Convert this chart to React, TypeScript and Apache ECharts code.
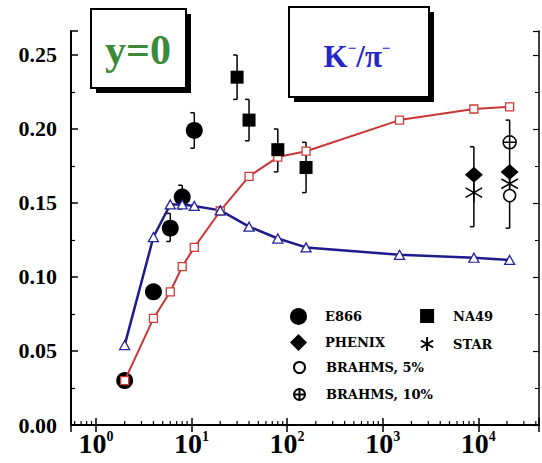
import React, { useEffect, useRef } from "react";
import * as echarts from "echarts";

// Beam energies (GeV) at which the two model curves are evaluated
const modelEnergy = [2, 4, 6, 8, 10.7, 20, 40, 80, 158, 1500, 9000, 21300];
const modelRed = [0.030, 0.072, 0.090, 0.107, 0.120, 0.1446, 0.168, 0.181, 0.185, 0.206, 0.2135, 0.215];
const modelBlue = [0.054, 0.127, 0.149, 0.149, 0.148, 0.145, 0.134, 0.126, 0.120, 0.115, 0.113, 0.1115];

// Measured K-/pi- ratios at mid-rapidity
const e866Energy = [2, 4, 6, 8, 10.7];
const e866Ratio = [0.030, 0.090, 0.133, 0.154, 0.199];
const na49Energy = [30, 40, 80, 158];
const na49Ratio = [0.235, 0.206, 0.186, 0.174];
const phenixEnergy = [9000, 21300];
const phenixRatio = [0.169, 0.171];
const starEnergy = [9000, 21300];
const starRatio = [0.157, 0.163];
const brahms5Energy = [21300];
const brahms5Ratio = [0.155];
const brahms10Energy = [21300];
const brahms10Ratio = [0.191];

// Error bars: energy, lower end, upper end
const errEnergy = [6, 8, 10.7, 30, 40, 80, 158, 9000, 21300];
const errLow = [0.124, 0.146, 0.187, 0.220, 0.192, 0.171, 0.157, 0.134, 0.133];
const errHigh = [0.143, 0.162, 0.211, 0.250, 0.220, 0.200, 0.191, 0.188, 0.206];

// Axis ticks
const xTickExponents = [0, 1, 2, 3, 4];
const yTickLabels = ["0.00", "0.05", "0.10", "0.15", "0.20", "0.25"];

const X_MIN = 0.549;
const X_MAX = 43200;
const Y_MAX = 0.2662;

const SERIF = '"Liberation Serif", "Times New Roman", serif';
const LEGEND_FONT = '"DejaVu Serif", "Liberation Serif", serif';

const STAR_PATH = "path://M0,-10L0,10M-8.7,-5L8.7,5M-8.7,5L8.7,-5";
const CROSS_CIRCLE_PATH =
  "path://M10,0A10,10,0,1,1,-10,0A10,10,0,1,1,10,0ZM-10,0L10,0M0,-10L0,10";

const pairs = (xs: number[], ys: number[]) => xs.map((x, i) => [x, ys[i]]);

// Minor tick positions of the logarithmic energy axis (2..9 in every decade)
const minorTicks: number[][] = [];
for (let d = -1; d <= 4; d++) {
  for (let m = 2; m <= 9; m++) {
    const v = m * Math.pow(10, d);
    if (v > X_MIN && v < X_MAX) minorTicks.push([v, 0]);
  }
}

const legendText = (pad: number) => ({
  fontFamily: LEGEND_FONT,
  fontWeight: "bold",
  fontSize: 13,
  color: "#000",
  padding: [0, 0, 0, pad],
});

export default function App() {
  const ref = useRef<HTMLDivElement>(null);

  useEffect(() => {
    if (!ref.current) return;
    const chart = echarts.init(ref.current, undefined, { renderer: "svg" });

    const axisLine = { show: true, lineStyle: { color: "#000", width: 2 } };

    chart.setOption({
      animation: false,
      backgroundColor: "#fff",
      grid: { left: 71, right: 1, top: 31, bottom: 38 },
      xAxis: [
        {
          type: "log",
          min: X_MIN,
          max: X_MAX,
          position: "bottom",
          axisLine,
          splitLine: { show: false },
          axisTick: { show: true, inside: true, length: 7, lineStyle: { color: "#000", width: 1.5 } },
          axisLabel: {
            margin: 4,
            color: "#000",
            formatter: (v: number) => {
              const e = Math.log10(v);
              const r = Math.round(e);
              if (Math.abs(e - r) > 1e-6 || !xTickExponents.includes(r)) return "";
              return `{b|10}{s|${r}}`;
            },
            rich: {
              b: { fontFamily: SERIF, fontWeight: "bold", fontSize: 28, color: "#000" },
              s: { fontFamily: SERIF, fontWeight: "bold", fontSize: 14, color: "#000", verticalAlign: "top" },
            },
          },
        },
        {
          type: "log",
          min: X_MIN,
          max: X_MAX,
          position: "top",
          axisLine: { show: true, lineStyle: { color: "#000", width: 1.5 } },
          splitLine: { show: false },
          axisTick: { show: true, inside: true, length: 7, lineStyle: { color: "#000", width: 1.5 } },
          axisLabel: { show: false },
        },
      ],
      yAxis: [
        {
          type: "value",
          min: 0,
          max: Y_MAX,
          interval: 0.05,
          position: "left",
          axisLine,
          splitLine: { show: false },
          axisTick: { show: true, inside: true, length: 7, lineStyle: { color: "#000", width: 1.5 } },
          minorTick: { show: true, splitNumber: 2, length: 4, lineStyle: { color: "#000", width: 1.2 } },
          axisLabel: {
            margin: 14,
            color: "#000",
            fontFamily: SERIF,
            fontWeight: "bold",
            fontSize: 22,
            showMaxLabel: false,
            formatter: (v: number) => {
              const i = Math.round(v / 0.05);
              if (Math.abs(v - i * 0.05) > 1e-6) return "";
              return yTickLabels[i] ?? "";
            },
          },
        },
        {
          type: "value",
          min: 0,
          max: Y_MAX,
          interval: 0.05,
          position: "right",
          axisLine: { show: true, lineStyle: { color: "#000", width: 1.5 } },
          splitLine: { show: false },
          axisTick: { show: true, inside: true, length: 6, lineStyle: { color: "#000", width: 1.2 } },
          minorTick: { show: true, splitNumber: 2, length: 4, lineStyle: { color: "#000", width: 1 } },
          axisLabel: { show: false },
        },
      ],
      legend: [
        {
          data: ["E866", "PHENIX"],
          orient: "vertical",
          left: 290,
          top: 308,
          padding: 0,
          itemWidth: 17,
          itemHeight: 17,
          itemGap: 9,
          selectedMode: false,
          textStyle: legendText(13),
        },
        {
          data: ["BRAHMS, 5%", "BRAHMS, 10%"],
          orient: "vertical",
          left: 293,
          top: 361,
          padding: 0,
          itemWidth: 11,
          itemHeight: 11,
          itemGap: 14,
          selectedMode: false,
          textStyle: legendText(16),
        },
        {
          data: ["NA49", "STAR"],
          orient: "vertical",
          left: 420,
          top: 309,
          padding: 0,
          itemWidth: 14,
          itemHeight: 14,
          itemGap: 13,
          selectedMode: false,
          textStyle: legendText(14),
        },
      ],
      graphic: [
        { type: "rect", z: 100, shape: { x: 96, y: 14, width: 95, height: 79 }, style: { fill: "#000" } },
        {
          type: "rect",
          z: 101,
          shape: { x: 91, y: 9, width: 95, height: 79 },
          style: { fill: "#fff", stroke: "#000", lineWidth: 2 },
        },
        {
          type: "text",
          z: 102,
          x: 138,
          y: 50,
          style: {
            text: "y=0",
            fontFamily: SERIF,
            fontWeight: "bold",
            fontSize: 42,
            fill: "#3b8a3b",
            align: "center",
            verticalAlign: "middle",
          },
        },
        { type: "rect", z: 100, shape: { x: 294, y: 12, width: 140, height: 90 }, style: { fill: "#000" } },
        {
          type: "rect",
          z: 101,
          shape: { x: 289, y: 7, width: 140, height: 90 },
          style: { fill: "#fff", stroke: "#000", lineWidth: 2 },
        },
        {
          type: "text",
          z: 102,
          x: 357,
          y: 56,
          style: {
            text: "{k|K}{s|\u2212}{k|/\u03c0}{s|\u2212}",
            align: "center",
            verticalAlign: "middle",
            rich: {
              k: { fontFamily: SERIF, fontWeight: "bold", fontSize: 31, fill: "#2626c8" },
              s: { fontFamily: SERIF, fontWeight: "bold", fontSize: 15, fill: "#2626c8", verticalAlign: "top" },
            },
          },
        },
      ],
      series: [
        {
          type: "custom",
          name: "minor ticks",
          silent: true,
          z: 1,
          data: minorTicks,
          encode: { x: 0, y: 1 },
          renderItem: (_p: any, api: any) => {
            const pt = api.coord([api.value(0), 0]);
            return {
              type: "line",
              shape: { x1: pt[0], y1: pt[1], x2: pt[0], y2: pt[1] - 4 },
              style: { stroke: "#000", lineWidth: 1.2 },
            };
          },
        },
        {
          type: "custom",
          name: "errors",
          silent: true,
          z: 1,
          data: errEnergy.map((e, i) => [e, errLow[i], errHigh[i]]),
          encode: { x: 0, y: [1, 2] },
          renderItem: (_p: any, api: any) => {
            const x = api.value(0);
            const top = api.coord([x, api.value(2)]);
            const bot = api.coord([x, api.value(1)]);
            const st = { stroke: "#000", lineWidth: 1.5 };
            return {
              type: "group",
              children: [
                { type: "line", shape: { x1: top[0], y1: top[1], x2: bot[0], y2: bot[1] }, style: st },
                { type: "line", shape: { x1: top[0] - 4, y1: top[1], x2: top[0], y2: top[1] }, style: st },
                { type: "line", shape: { x1: bot[0] - 4, y1: bot[1], x2: bot[0], y2: bot[1] }, style: st },
              ],
            };
          },
        },
        {
          type: "scatter",
          name: "E866",
          z: 2,
          symbol: "circle",
          symbolSize: 17,
          itemStyle: { color: "#000", opacity: 1 },
          data: pairs(e866Energy, e866Ratio),
        },
        {
          type: "line",
          name: "model red",
          z: 3,
          data: pairs(modelEnergy, modelRed),
          symbol: "rect",
          symbolSize: 8,
          lineStyle: { color: "#cc3535", width: 2 },
          itemStyle: { color: "#fff", borderColor: "#d23a3a", borderWidth: 1.3 },
        },
        {
          type: "line",
          name: "model blue",
          z: 3,
          data: pairs(modelEnergy, modelBlue),
          symbol: "triangle",
          symbolSize: [10, 9],
          lineStyle: { color: "#1c1c8c", width: 2.5 },
          itemStyle: { color: "#fff", borderColor: "#24249a", borderWidth: 1.3 },
        },
        {
          type: "scatter",
          name: "NA49",
          z: 4,
          symbol: "rect",
          symbolSize: 13,
          itemStyle: { color: "#000", opacity: 1 },
          data: pairs(na49Energy, na49Ratio),
        },
        {
          type: "scatter",
          name: "PHENIX",
          z: 4,
          symbol: "diamond",
          symbolSize: [18, 16],
          itemStyle: { color: "#000", opacity: 1 },
          data: pairs(phenixEnergy, phenixRatio),
        },
        {
          type: "scatter",
          name: "STAR",
          z: 5,
          symbol: STAR_PATH,
          symbolKeepAspect: true,
          symbolSize: 19,
          itemStyle: { color: "#000", borderColor: "#000", borderWidth: 1.5, opacity: 1 },
          data: pairs(starEnergy, starRatio),
        },
        {
          type: "scatter",
          name: "BRAHMS, 5%",
          z: 5,
          symbol: "circle",
          symbolSize: 12,
          itemStyle: { color: "#fff", borderColor: "#000", borderWidth: 1.5, opacity: 1 },
          data: pairs(brahms5Energy, brahms5Ratio),
        },
        {
          type: "scatter",
          name: "BRAHMS, 10%",
          z: 5,
          symbol: CROSS_CIRCLE_PATH,
          symbolKeepAspect: true,
          symbolSize: 13,
          itemStyle: { color: "#fff", borderColor: "#000", borderWidth: 1.5, opacity: 1 },
          data: pairs(brahms10Energy, brahms10Ratio),
        },
      ],
    });

    return () => chart.dispose();
  }, []);

  return (
    <div
      ref={ref}
      style={{ position: "fixed", left: 0, top: 0, width: 542, height: 463, background: "#fff" }}
    />
  );
}
